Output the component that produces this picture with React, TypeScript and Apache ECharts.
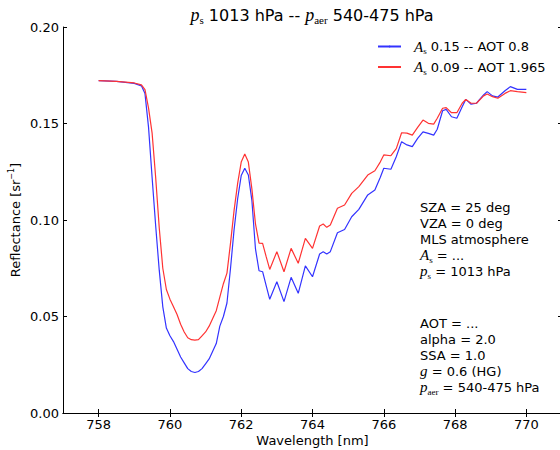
import React, { useEffect, useRef } from "react";
import * as echarts from "echarts";

const wavelengths = [
  758.0, 758.5, 759.0, 759.2, 759.3, 759.4, 759.5, 759.6, 759.7, 759.8, 759.9,
  760.0, 760.1, 760.2, 760.3, 760.4, 760.5, 760.6, 760.7, 760.8, 760.9,
  761.0, 761.1, 761.2, 761.3, 761.4, 761.5, 761.6, 761.7, 761.8, 761.9,
  762.0, 762.1, 762.2, 762.3, 762.4, 762.5, 762.6, 762.7, 762.8,
  763.0, 763.2, 763.4, 763.6, 763.8, 764.0, 764.2, 764.3, 764.4, 764.5,
  764.7, 764.9, 765.1, 765.3, 765.55, 765.75, 765.9, 766.0, 766.2, 766.35,
  766.5, 766.65, 766.8, 766.95, 767.1, 767.25, 767.4, 767.5, 767.65, 767.75,
  767.9, 768.05, 768.2, 768.3, 768.45, 768.6, 768.8, 768.9, 769.05, 769.2,
  769.4, 769.55, 769.75, 770.0,
];

const blueRefl = [
  0.1722, 0.1718, 0.1708, 0.1695, 0.1655, 0.148, 0.122, 0.097, 0.074, 0.055, 0.044,
  0.04, 0.037, 0.033, 0.029, 0.026, 0.023, 0.0215, 0.021, 0.0215, 0.023,
  0.0255, 0.028, 0.032, 0.036, 0.045, 0.05, 0.057, 0.075, 0.095, 0.111,
  0.123, 0.1268, 0.1233, 0.11, 0.085, 0.0737, 0.0732, 0.066, 0.0589,
  0.068, 0.0577, 0.0703, 0.062, 0.0762, 0.0706, 0.0824, 0.0836, 0.0824, 0.0836,
  0.0934, 0.0951, 0.1017, 0.1055, 0.113, 0.1155, 0.122, 0.1268, 0.1263, 0.1328,
  0.1406, 0.1389, 0.138, 0.1423, 0.1457, 0.1449, 0.144, 0.147, 0.1566, 0.1573,
  0.1535, 0.1527, 0.1587, 0.1625, 0.16, 0.1605, 0.1648, 0.1665, 0.1643, 0.1637,
  0.167, 0.1691, 0.1677, 0.1677,
];

const redRefl = [
  0.1722, 0.1718, 0.171, 0.17, 0.1675, 0.158, 0.145, 0.122, 0.096, 0.075, 0.064,
  0.059, 0.055, 0.051, 0.046, 0.042, 0.039, 0.038, 0.0378, 0.038, 0.04,
  0.042, 0.045, 0.049, 0.053, 0.06, 0.067, 0.0725, 0.088, 0.105, 0.119,
  0.13, 0.1342, 0.13, 0.116, 0.098, 0.088, 0.0879, 0.081, 0.0744,
  0.0836, 0.0732, 0.0853, 0.0776, 0.0905, 0.0853, 0.0969, 0.0979, 0.0962, 0.0974,
  0.1061, 0.1078, 0.1138, 0.1173, 0.1233, 0.1255, 0.13, 0.1337, 0.1333, 0.137,
  0.1452, 0.145, 0.144, 0.148, 0.1518, 0.1501, 0.1497, 0.1527, 0.1579, 0.1582,
  0.1556, 0.1556, 0.1605, 0.1625, 0.1605, 0.1605, 0.1643, 0.1653, 0.1639, 0.1631,
  0.1656, 0.167, 0.1665, 0.166,
];

const seriesNames = ["As 0.15 -- AOT 0.8", "As 0.09 -- AOT 1.965"];
const legendRich = [
  "{it|A}{sub|s} 0.15 -- AOT 0.8",
  "{it|A}{sub|s} 0.09 -- AOT 1.965",
];
const xTicks = [758, 760, 762, 764, 766, 768, 770];

const infoLines = [
  "SZA = 25 deg",
  "VZA = 0 deg",
  "MLS atmosphere",
  "{it|A}{sub|s} = ...",
  "{it|p}{sub|s} = 1013 hPa",
];
const infoLines2 = [
  "AOT = ...",
  "alpha = 2.0",
  "SSA = 1.0",
  "{it|g} = 0.6 (HG)",
  "{it|p}{sub|aer} = 540-475 hPa",
];

const FONT = "DejaVu Sans";
const MATH = "Liberation Serif";

const rich = {
  it: { fontFamily: MATH, fontStyle: "italic", fontSize: 15, color: "#000" },
  sub: { fontFamily: MATH, fontSize: 9, color: "#000", padding: [9, 0, 0, 0] },
  sup: { fontFamily: FONT, fontSize: 8, color: "#000", padding: [0, 0, 8, 0] },
};

export default function App() {
  const ref = useRef<HTMLDivElement>(null);
  useEffect(() => {
    if (!ref.current) return;
    const chart = echarts.init(ref.current, null, { renderer: "svg" });
    const axisCommon = {
      type: "value" as const,
      axisLine: { show: true, lineStyle: { color: "#000", width: 1 } },
      splitLine: { show: false },
    };
    const textEls: any[] = [];
    infoLines.forEach((t, i) => {
      textEls.push({
        type: "text",
        x: 420,
        y: 207 + i * 16,
        style: { text: t, font: `13px '${FONT}'`, fill: "#000", verticalAlign: "middle", rich },
      });
    });
    infoLines2.forEach((t, i) => {
      textEls.push({
        type: "text",
        x: 420,
        y: 323 + i * 16,
        style: { text: t, font: `13px '${FONT}'`, fill: "#000", verticalAlign: "middle", rich },
      });
    });
    textEls.push({
      type: "text",
      x: 312,
      y: 15,
      style: {
        text: "{it|p}{sub|s} 1013 hPa -- {it|p}{sub|aer} 540-475 hPa",
        font: `16px '${FONT}'`,
        fill: "#000",
        align: "center",
        verticalAlign: "middle",
        rich: {
          it: { fontFamily: MATH, fontStyle: "italic", fontSize: 18, color: "#000" },
          sub: { fontFamily: MATH, fontSize: 11, color: "#000", padding: [10, 0, 0, 0] },
        },
      },
    });
    chart.setOption({
      animation: false,
      textStyle: { fontFamily: FONT },
      grid: { left: 63, top: 27, width: 499, height: 386, containLabel: false, outerBoundsMode: "none" },
      legend: {
        data: seriesNames,
        orient: "vertical",
        left: 377,
        top: 39,
        padding: 0,
        itemWidth: 23,
        itemHeight: 2,
        itemGap: 4,
        formatter: (n: string) => legendRich[seriesNames.indexOf(n)],
        textStyle: { fontFamily: FONT, fontSize: 13, color: "#000", rich, padding: [0, 0, 0, 8] },
      },
      xAxis: [
        {
          ...axisCommon,
          min: 757,
          max: 771,
          position: "bottom",
          name: "Wavelength [nm]",
          nameLocation: "middle",
          nameGap: 21,
          nameMoveOverlap: false,
          nameTextStyle: { fontFamily: FONT, fontSize: 13, color: "#000" },
          axisTick: { show: true, inside: true, length: 4, customValues: xTicks, lineStyle: { color: "#000" } },
          axisLabel: { show: true, customValues: xTicks, margin: 5, fontSize: 13, color: "#000", fontFamily: FONT },
        },
        {
          ...axisCommon,
          min: 757,
          max: 771,
          position: "top",
          axisTick: { show: true, inside: true, length: 4, customValues: xTicks, lineStyle: { color: "#000" } },
          axisLabel: { show: false },
        },
      ],
      yAxis: [
        {
          ...axisCommon,
          min: 0,
          max: 0.2,
          interval: 0.05,
          position: "left",
          name: "Reflectance [sr{sup|−1}]",
          nameLocation: "middle",
          nameGap: 40,
          nameMoveOverlap: false,
          nameTextStyle: { fontFamily: FONT, fontSize: 13, color: "#000", rich },
          axisTick: { show: true, inside: true, length: 4, lineStyle: { color: "#000" } },
          axisLabel: {
            show: true,
            margin: 4,
            fontSize: 13,
            color: "#000",
            fontFamily: FONT,
            formatter: (v: number) => v.toFixed(2),
          },
        },
        {
          ...axisCommon,
          min: 0,
          max: 0.2,
          interval: 0.05,
          position: "right",
          axisTick: { show: true, inside: true, length: 4, lineStyle: { color: "#000" } },
          axisLabel: { show: false },
        },
      ],
      series: [
        {
          name: seriesNames[0],
          type: "line",
          symbol: "none",
          data: wavelengths.map((w, i) => [w, blueRefl[i]]),
          lineStyle: { color: "#3333ff", width: 1.2 },
          itemStyle: { color: "#3333ff" },
        },
        {
          name: seriesNames[1],
          type: "line",
          symbol: "none",
          data: wavelengths.map((w, i) => [w, redRefl[i]]),
          lineStyle: { color: "#ff3333", width: 1.2 },
          itemStyle: { color: "#ff3333" },
        },
      ],
      graphic: textEls,
    });
    return () => chart.dispose();
  }, []);
  return (
    <div
      ref={ref}
      style={{ position: "fixed", left: 0, top: 0, width: 560, height: 450, background: "#fff" }}
    />
  );
}
